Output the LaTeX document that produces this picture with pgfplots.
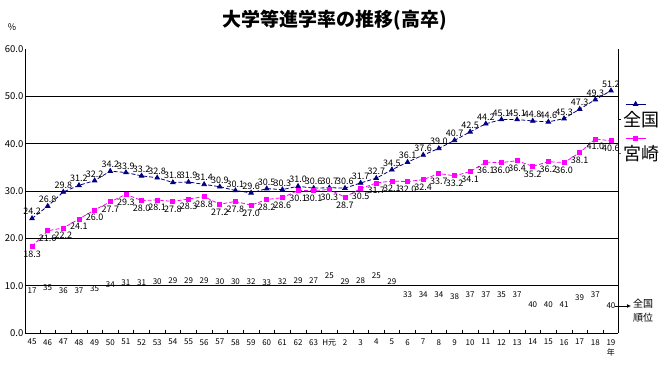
\documentclass[border=0pt]{standalone}
\usepackage{fontspec}
\setmainfont{Noto Sans CJK JP}
\usepackage{pgfplots}
\pgfplotsset{compat=1.18}
\usepackage{pgfplotstable}
\usetikzlibrary{arrows.meta}
\definecolor{natc}{RGB}{0,0,128}
\definecolor{miyc}{RGB}{255,0,255}

\pgfplotstableread{
x nat miy ry rk
0 24.2 18.3 8.88 17
1 26.8 21.6 9.58 35
2 29.8 22.2 9.03 36
3 31.2 24.1 8.88 37
4 32.2 26.0 9.45 35
5 34.2 27.7 10.15 34
6 33.9 29.3 10.63 31
7 33.2 28.0 10.63 31
8 32.8 28.1 10.85 30
9 31.8 27.8 10.99 29
10 31.9 28.3 10.99 29
11 31.4 28.8 10.99 29
12 30.9 27.2 10.78 30
13 30.1 27.8 10.78 30
14 29.6 27.0 10.78 32
15 30.5 28.2 10.63 33
16 30.3 28.6 10.78 32
17 31.0 30.1 10.99 29
18 30.6 30.1 11.14 27
19 30.7 30.3 12.05 25
20 30.6 28.7 10.85 29
21 31.7 30.5 11.14 28
22 32.7 31.7 12.05 25
23 34.5 32.1 10.85 29
24 36.1 32.0 8.18 33
25 37.6 32.4 8.03 34
26 39.0 33.7 8.03 34
27 40.7 33.2 7.61 38
28 42.5 34.1 8.18 37
29 44.2 36.1 8.18 37
30 45.1 36.0 8.18 35
31 45.1 36.4 8.18 37
32 44.8 35.2 6.07 40
33 44.6 36.2 6.07 40
34 45.3 36.0 5.92 41
35 47.3 38.1 7.46 39
36 49.3 41.0 8.18 37
37 51.2 40.6 5.86 40
}\datatable

\begin{document}
\begin{tikzpicture}
\useasboundingbox (-25pt,-40pt) rectangle (635pt,333pt);
\begin{axis}[
  scale only axis, width=593pt, height=284pt,
  at={(0pt,0pt)}, anchor=south west,
  xmin=-0.45, xmax=37.45, ymin=0, ymax=60,
  axis x line*=bottom, axis y line*=left,
  axis line style={black, line width=0.9pt},
  /pgf/number format/assume math mode=true,
  xtick={0,...,37},
  xticklabels={45,46,47,48,49,50,51,52,53,54,55,56,57,58,59,60,61,62,63,H元,2,3,4,5,6,7,8,9,10,11,12,13,14,15,16,17,18,{19\\年}},
  x tick label style={font=\fontsize{8}{10}\selectfont, align=center, inner sep=1pt, yshift=-5pt},
  minor xtick={0.5,1.5,...,36.5},
  major tick length=0pt, minor tick length=3pt, tick align=inside,
  minor tick style={black, line width=0.6pt},
  ytick={0,10,...,60},
  yticklabel style={/pgf/number format/fixed, /pgf/number format/fixed zerofill, /pgf/number format/precision=1},
  y tick label style={font=\fontsize{9.5}{9.5}\selectfont, inner sep=1.5pt},
  extra y ticks={10,20,30,40,50}, extra y tick labels={},
  extra y tick style={grid=major},
  major grid style={black, line width=0.9pt},
  clip=false,
  legend style={at={(1.0,0.79)}, anchor=north west, draw=none, fill=none,
    font=\fontsize{18}{18}\selectfont, row sep=14pt, inner sep=0pt},
  legend image code/.code={
    \path (0pt,0pt) -- (2pt,0pt);
    \draw[#1, overlay, solid, mark repeat=2, mark phase=2] plot coordinates {(7pt,15pt) (17pt,15pt) (27pt,15pt)};
  },
]
\draw[black, line width=0.9pt] (rel axis cs:1,0) -- (rel axis cs:1,1);
\addplot[natc, line width=0.8pt, dash pattern=on 4pt off 2pt,
  mark=triangle*, mark size=2.6pt, mark options={solid},
  nodes near coords={\pgfmathprintnumber[fixed,fixed zerofill,precision=1]{\pgfplotspointmeta}},
  every node near coord/.append style={font=\fontsize{9}{9}\selectfont, text=black, anchor=south, yshift=2pt, inner sep=1pt}]
  table[x=x, y=nat] {\datatable};
\addlegendentry{全国}
\addplot[miyc, line width=0.8pt, dash pattern=on 4pt off 2pt,
  mark=square*, mark size=2pt, mark options={solid},
  nodes near coords={\pgfmathprintnumber[fixed,fixed zerofill,precision=1]{\pgfplotspointmeta}},
  every node near coord/.append style={font=\fontsize{9}{9}\selectfont, text=black, anchor=north, yshift=-3pt, inner sep=1pt}]
  table[x=x, y=miy] {\datatable};
\addlegendentry{宮崎}
\addplot[draw=none, forget plot, nodes near coords, point meta=explicit symbolic,
  every node near coord/.append style={font=\fontsize{8}{8}\selectfont, text=black, anchor=center, inner sep=0pt}]
  table[x=x, y=ry, meta=rk] {\datatable};
\end{axis}
\node[font=\bfseries\fontsize{19}{19}\selectfont] at (310pt,313pt) {大学等進学率の推移(高卒)};
\node[font=\fontsize{9}{9}\selectfont] at (-13pt,306pt) {\%};
\draw[-{Latex[length=4pt,width=4pt]}, line width=1pt] (590pt,27pt) -- (606pt,27pt);
\node[anchor=north west, font=\fontsize{10}{14}\selectfont, align=left, inner sep=0pt] at (608pt,34pt) {全国\\順位};
\end{tikzpicture}
\end{document}
